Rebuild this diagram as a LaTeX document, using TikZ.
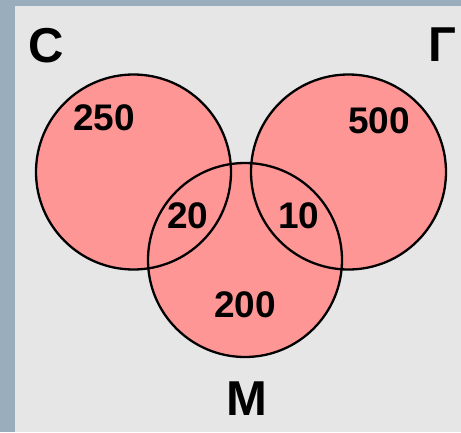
\documentclass[tikz,border=0pt]{standalone}
\usepackage{fontspec}
\setmainfont{Liberation Sans}
\definecolor{frameblue}{HTML}{9AADBC}
\definecolor{panelgrey}{HTML}{E6E6E6}
\definecolor{vennpink}{HTML}{FF9696}
\tikzset{
  setfill/.style={fill=vennpink},
  setline/.style={draw=black, line width=2.3pt},
  setname/.style={inner sep=0pt, font=\fontsize{49}{49}\selectfont\bfseries},
  countlabel/.style={inner sep=0pt, font=\fontsize{37}{37}\selectfont\bfseries}
}
\begin{document}
\begin{tikzpicture}[x=1pt,y=-1pt]
  \fill[frameblue] (0,0) rectangle (461,432);
  \fill[panelgrey] (15,6) rectangle (461,432);
  \useasboundingbox (0,0) rectangle (461,432);
  \coordinate (cC) at (133.5,172);
  \coordinate (cG) at (348.5,172);
  \coordinate (cM) at (245,260);
  \fill[setfill] (cC) circle[radius=97.5pt];
  \fill[setfill] (cG) circle[radius=97.5pt];
  \fill[setfill] (cM) circle[radius=97pt];
  \draw[setline] (cC) circle[radius=97.5pt];
  \draw[setline] (cG) circle[radius=97.5pt];
  \draw[setline] (cM) circle[radius=97pt];
  \node[setname] (nC) at (46,45.5) {С};
  \node[setname] (nG) at (442.5,45) {Г};
  \node[setname] (nM) at (246.5,398.5) {М};
  \node[countlabel] (n250) at (104,118) {250};
  \node[countlabel] (n500) at (379,121) {500};
  \node[countlabel] (n20) at (188,216) {20};
  \node[countlabel] (n10) at (299,216) {10};
  \node[countlabel] (n200) at (245,305) {200};
\end{tikzpicture}
\end{document}
